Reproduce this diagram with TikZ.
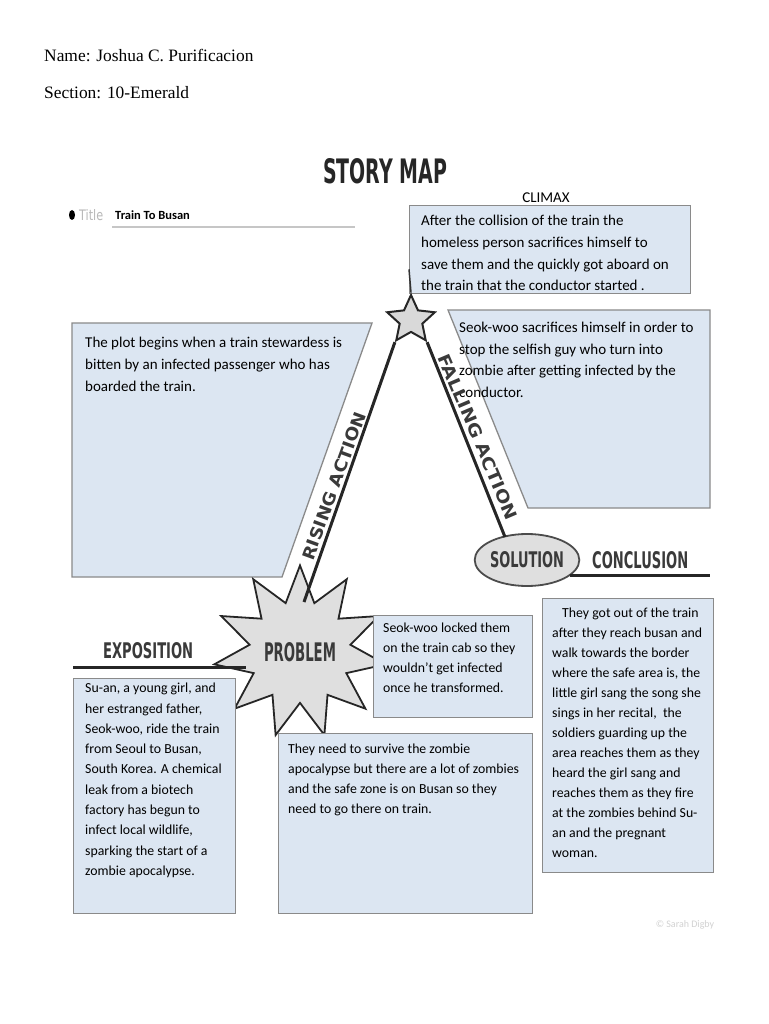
\documentclass[tikz,border=0pt]{standalone}
\usepackage{fontspec}
\usepackage{graphicx}
\setmainfont{Carlito}
\newfontfamily\serifname{Liberation Serif}
\newfontfamily\headfont{DejaVu Sans}
\usetikzlibrary{shapes.geometric}
\pgfdeclarelayer{background}
\pgfsetlayers{background,main}
\definecolor{boxblue}{HTML}{DCE6F2}
\definecolor{boxline}{HTML}{8A8A8A}
\definecolor{headgray}{HTML}{3A3A3A}
\newcommand{\hd}[3]{\resizebox{#1pt}{#2pt}{\headfont\bfseries #3}}
\tikzset{
  box/.style={draw=boxline, fill=boxblue, line width=1.3pt, inner sep=0pt, anchor=north west},
  body/.style={anchor=north west, align=left, inner sep=0pt, text=black, font=\fontsize{15}{21.7}\selectfont},
  lowbody/.style={body, font=\fontsize{13.8}{20}\selectfont},
  road/.style={line width=3pt, draw=black!85},
  link/.style={draw=gray!75, line width=1.2pt},
  head/.style={inner sep=0pt, text=headgray},
}
\begin{document}
\begin{tikzpicture}[x=1pt,y=-1pt]
\fill[white] (0,0) rectangle (768,1024);
\useasboundingbox (0,0) rectangle (768,1024);

% header
\node[anchor=base west, inner sep=0pt, font=\serifname\fontsize{17.4}{17.4}\selectfont] (name) at (44,62) {Name: Joshua C. Purificacion};
\node[anchor=base west, inner sep=0pt, font=\serifname\fontsize{17.4}{17.4}\selectfont] (section) at (44,99) {Section: 10-Emerald};
\node[head, anchor=north west, text=black!85] (storymap) at (323,158) {\hd{124}{25}{STORY MAP}};

% title row
\fill[black] (72,215) ellipse (3pt and 5pt);
\node[head, anchor=west, text=gray!55] (titlelbl) at (79,215) {\resizebox{24pt}{11pt}{\headfont Title}};
\node[anchor=base west, inner sep=0pt, font=\bfseries\fontsize{12.5}{12.5}\selectfont] (titletxt) at (115,220) {Train To Busan};
\coordinate (ulA) at (112,227);
\coordinate (ulB) at (355,227);
\draw[gray!45, line width=1.5pt] (ulA) -- (ulB);

% trapezoid boxes
\draw[box] (72,323) -- (372,323) -- (282,577) -- (72,577) -- cycle;
\draw[box] (448,310) -- (710,310) -- (710,508) -- (528,508) -- cycle;

% climax
\node[anchor=base, inner sep=0pt, font=\fontsize{15}{15}\selectfont] (climaxlbl) at (546,203) {CLIMAX};
\node[box, minimum width=281pt, minimum height=88pt] (climaxbox) at (409,205) {};
\node[body] (climaxtxt) at (421,215) {After the collision of the train the\\homeless person sacrifices himself to\\save them and the quickly got aboard on\\the train that the conductor started .};
\node[star, star points=5, star point ratio=2.1, minimum size=50pt, inner sep=0pt, draw=black!85, line width=2pt, fill=gray!30] (climax) at (411,320) {};
\draw[black!80, line width=1.5pt] ([yshift=25pt]climaxbox.south west) -- (climax.outer point 1);

% box texts upper
\node[body, font=\fontsize{15}{22}\selectfont] (risetxt) at (85,337) {The plot begins when a train stewardess is\\bitten by an infected passenger who has\\boarded the train.};
\node[body, font=\fontsize{15}{21.5}\selectfont] (falltxt) at (459,322) {Seok-woo sacrifices himself in order to\\stop the selfish guy who turn into\\zombie after getting infected by the\\conductor.};

% problem explosion and solution
\node[star, star points=11, star point ratio=1.7, minimum size=128pt, inner sep=0pt, draw=black!85, line width=1.8pt, fill=gray!25, text=headgray] (problem) at (300,652) {\hd{72}{19}{PROBLEM}};
\node[ellipse, minimum width=98pt, minimum height=52pt, inner sep=0pt, draw=black!70, line width=1.8pt, fill=gray!25, text=headgray] (solution) at (527,560) {\hd{74}{16}{SOLUTION}};

% rising / falling roads
\coordinate (riseend) at (304,602);
\coordinate (fallend) at (505,537);
\draw[road] (climax.outer point 3) -- (riseend);
\draw[road] (climax.outer point 4) -- (fallend);
\node[head, rotate=70] (risinglbl) at (334,486) {\hd{156}{12.5}{RISING ACTION}};
\node[head, rotate=-67] (fallinglbl) at (478,437) {\hd{178}{12.5}{FALLING ACTION}};

% conclusion
\node[head, anchor=west] (conclbl) at (592,560) {\hd{96}{17}{CONCLUSION}};
\coordinate (concend) at (710,572);
\draw[road] (solution.-20) -- (solution.-20 -| concend);

% exposition
\node[head, anchor=north west] (explbl) at (103,642) {\hd{90}{16}{EXPOSITION}};
\coordinate (expstart) at (73,667);
\coordinate (expend) at (246,667);

% lower boxes
\node[box, minimum width=159pt, minimum height=102pt] (lockbox) at (373,615) {};
\node[box, minimum width=171pt, minimum height=274pt] (concbox) at (542,598) {};
\node[box, minimum width=254pt, minimum height=180pt] (probbox) at (278,733) {};
\node[box, minimum width=162pt, minimum height=235pt] (expbox) at (73,678) {};
\draw[road] (expstart) -- (expend);

\node[lowbody] (locktxt) at (383,623) {Seok-woo locked them\\on the train cab so they\\wouldn’t get infected\\once he transformed.};
\node[lowbody] (conctxt) at (552,608) {\hspace{10pt}They got out of the train\\after they reach busan and\\walk towards the border\\where the safe area is, the\\little girl sang the song she\\sings in her recital,\ \ the\\soldiers guarding up the\\area reaches them as they\\heard the girl sang and\\reaches them as they fire\\at the zombies behind Su-\\an and the pregnant\\woman.};
\node[lowbody] (probtxt) at (288,744) {They need to survive the zombie\\apocalypse but there are a lot of zombies\\and the safe zone is on Busan so they\\need to go there on train.};
\node[lowbody, font=\fontsize{13.8}{20.3}\selectfont] (exptxt) at (85,683) {Su-an, a young girl, and\\her estranged father,\\Seok-woo, ride the train\\from Seoul to Busan,\\South Korea. A chemical\\leak from a biotech\\factory has begun to\\infect local wildlife,\\sparking the start of a\\zombie apocalypse.};

% connectors behind
\coordinate (pdrop) at (325,733);
\coordinate (sdrop) at (452,615);
\begin{pgfonlayer}{background}
\draw[link] (pdrop |- problem.center) -- (pdrop);
\draw[link] (solution.center) -| (sdrop);
\end{pgfonlayer}

\node[text=gray!35, inner sep=0pt, font=\fontsize{10}{10}\selectfont] (wm) at (685,925) {© Sarah Digby};
\end{tikzpicture}
\end{document}
